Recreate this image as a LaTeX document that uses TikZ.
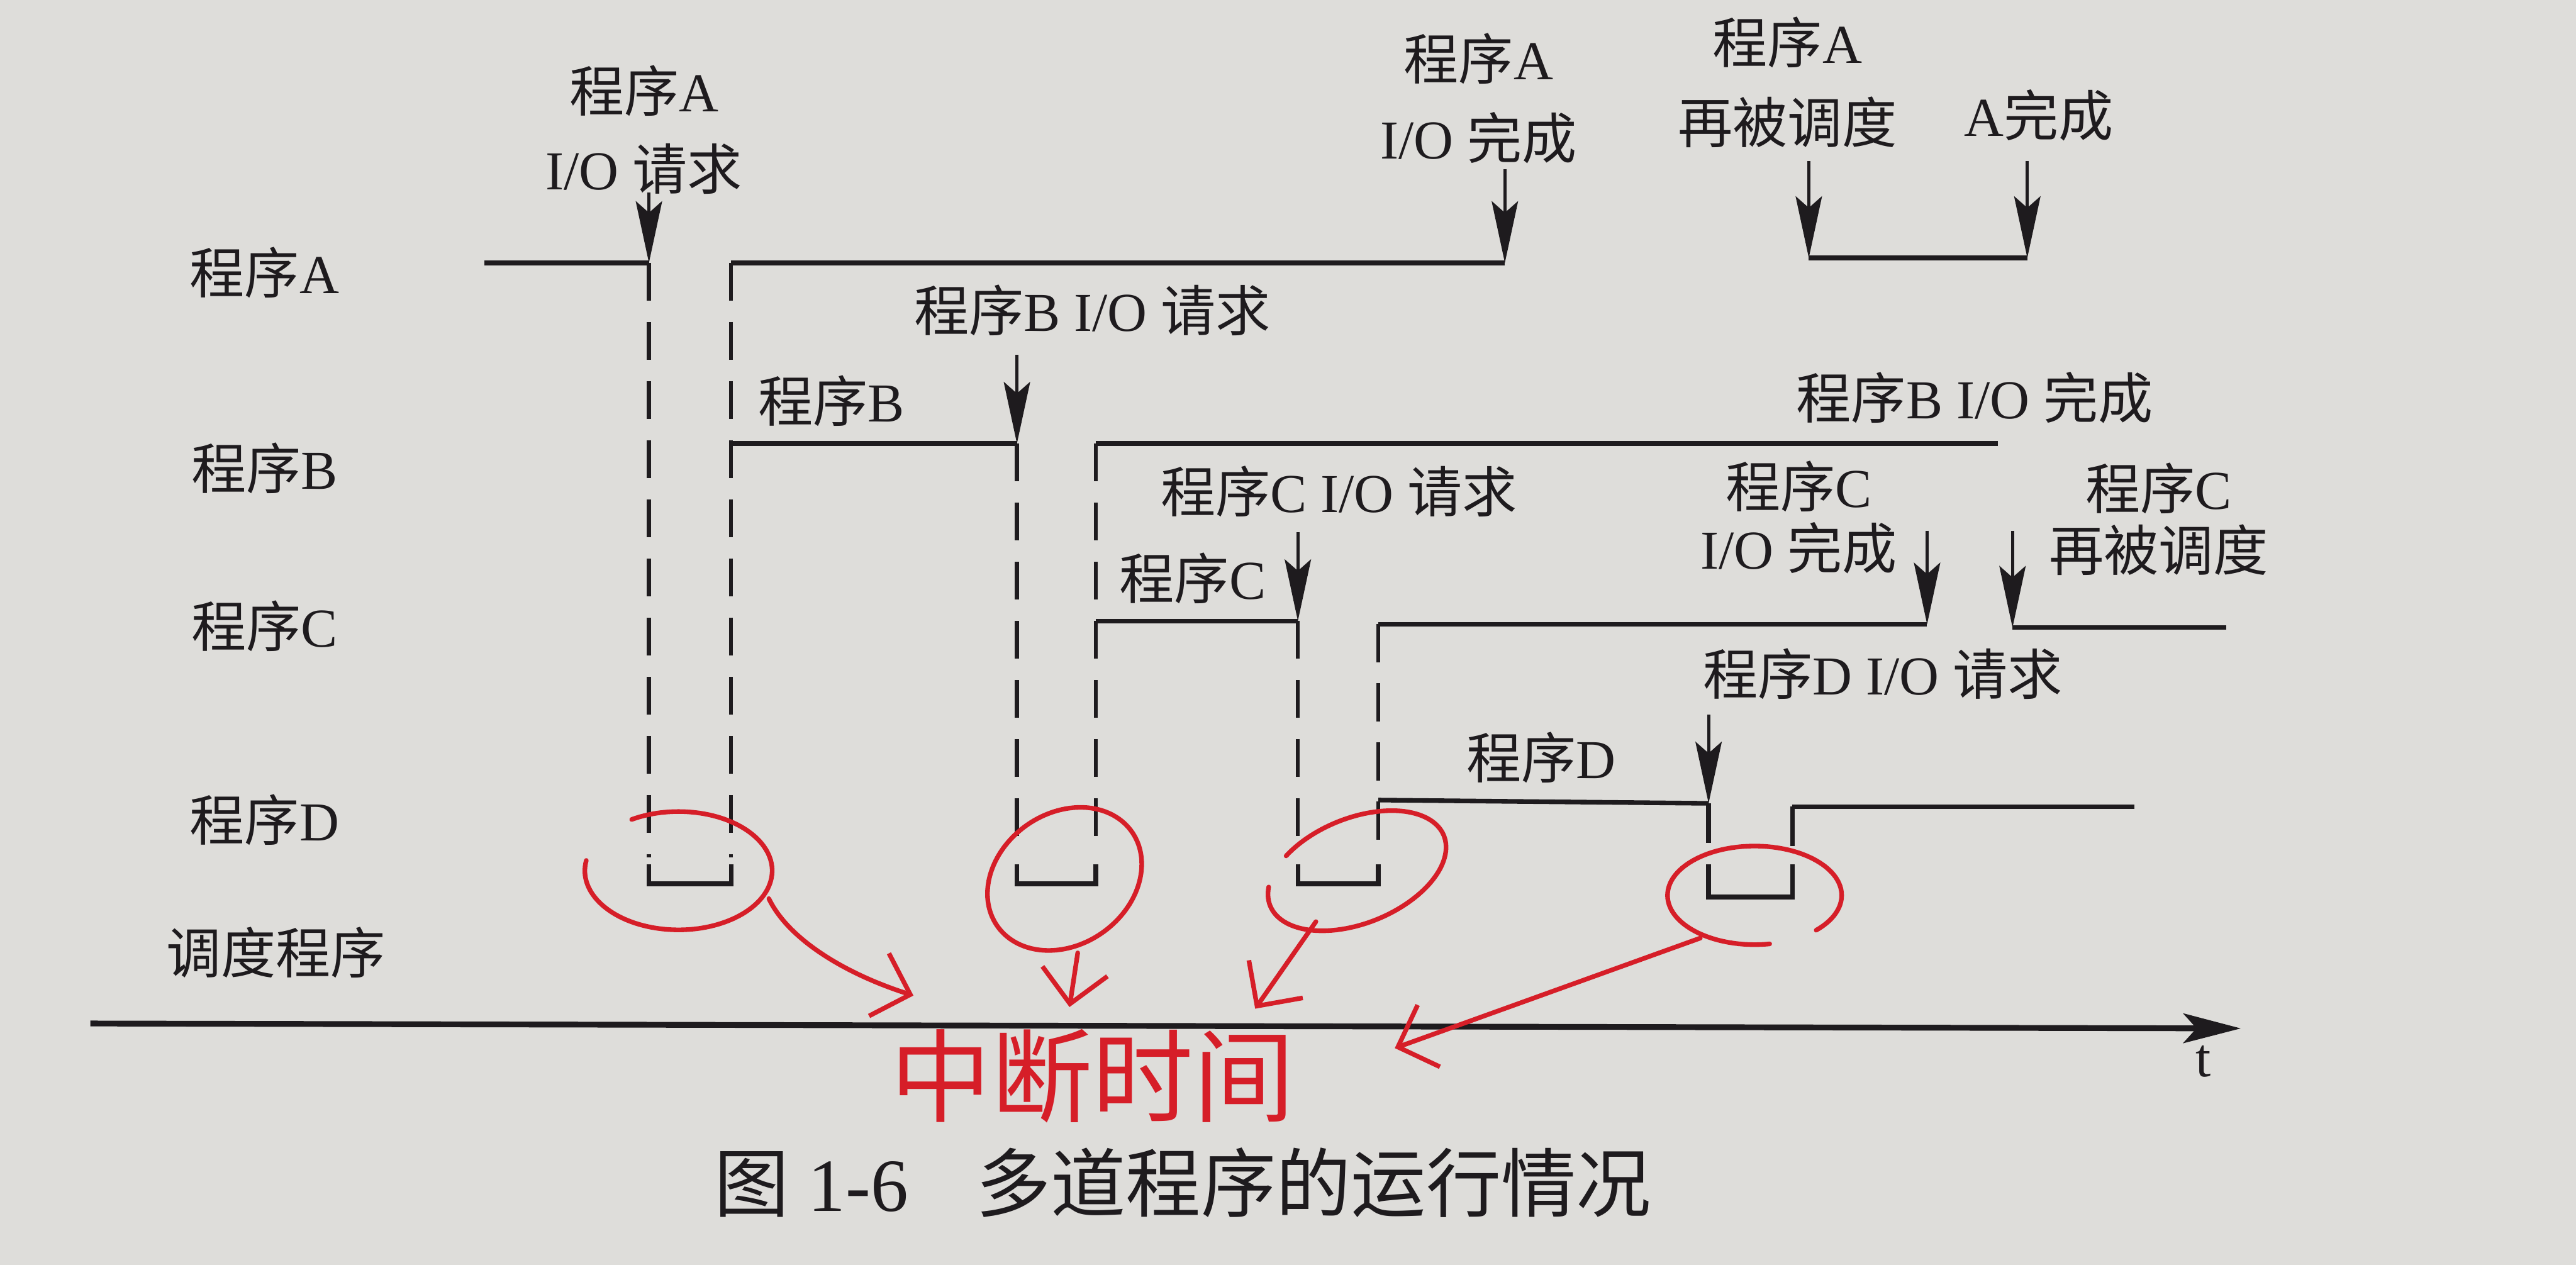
\documentclass[tikz,border=0pt]{standalone}
\usepackage{fontspec}
\setmainfont{Liberation Serif}
\newfontfamily\cjk{Noto Sans CJK SC}
\usetikzlibrary{arrows.meta}
\definecolor{paper}{RGB}{222,221,218}
\definecolor{printink}{RGB}{30,27,30}
\definecolor{inkred}{RGB}{214,30,40}
\newcommand\zh[1]{{\cjk #1}}
\tikzset{
lbl/.style={
  font=\fontsize{19}{23}\selectfont,
  text=printink,
  inner sep=0pt,
  align=center
},
caption/.style={
  font=\fontsize{26}{30}\selectfont,
  text=printink,
  inner sep=0pt
},
handnote/.style={
  font=\cjk\fontsize{35}{36}\selectfont,
  text=inkred,
  inner sep=0pt
},
level/.style={
  draw=printink,
  line width=1.6pt
},
ioline/.style={
  draw=printink,
  line width=1.4pt,
  dash pattern=on 4.6mm off 2.6mm
},
evarrow/.style={
  draw=printink,
  line width=1.1pt,
  -{Stealth[length=7.5mm,width=3.2mm,inset=1.4mm]}
},
taxis/.style={
  draw=printink,
  line width=2pt,
  -{Stealth[length=7mm,width=3.6mm,inset=1.6mm]}
},
redink/.style={
  draw=inkred,
  line width=1.6pt,
  line cap=round
},
redarrow/.style={
  redink,
  -{Straight Barb[length=4mm,width=8mm]}
}
}

\begin{document}
\begin{tikzpicture}[x=0.2mm, y=-0.2mm]
  \fill[paper] (0,0) rectangle (1568,770);
  \useasboundingbox (0,0) rectangle (1568,770);

  % row names
  \node[lbl] (rowA) at (161,166) {\zh{程序}A};
  \node[lbl] (rowB) at (161,285) {\zh{程序}B};
  \node[lbl] (rowC) at (161,381) {\zh{程序}C};
  \node[lbl] (rowD) at (161,499) {\zh{程序}D};
  \node[lbl] (sched) at (168,580) {\zh{调度程序}};

  % switch points on the levels
  \coordinate (a0) at (295,160);
  \coordinate (a1) at (395,160);
  \coordinate (a2) at (445,160);
  \coordinate (a3) at (916,160);
  \coordinate (a4) at (1101,157);
  \coordinate (a5) at (1234,157);
  \coordinate (b0) at (445,270);
  \coordinate (b1) at (619,270);
  \coordinate (b2) at (667,270);
  \coordinate (b3) at (1216,270);
  \coordinate (c0) at (667,378);
  \coordinate (c1) at (790,378);
  \coordinate (c2) at (839,380);
  \coordinate (c3) at (1173,380);
  \coordinate (c4) at (1225,382);
  \coordinate (c5) at (1355,382);
  \coordinate (d0) at (839,487);
  \coordinate (d1) at (1040,489);
  \coordinate (d2) at (1091,491);
  \coordinate (d3) at (1299,491);

  \draw[level] (a0) -- (a1);
  \draw[level] (a2) -- (a3);
  \draw[level] (a4) -- (a5);
  \draw[level] (b0) -- (b1);
  \draw[level] (b2) -- (b3);
  \draw[level] (c0) -- (c1);
  \draw[level] (c2) -- (c3);
  \draw[level] (c4) -- (c5);
  \draw[level] (d0) -- (d1);
  \draw[level] (d2) -- (d3);

  % scheduler slots
  \foreach \l/\r/\tl/\tr in {395/445/160/160, 619/667/270/270, 790/839/378/380}{
    \draw[ioline] (\l,\tl) -- (\l,522);
    \draw[ioline] (\r,\tr) -- (\r,522);
    \draw[level] (\l,526) -- (\l,538) -- (\r,538) -- (\r,526);
  }
  \draw[level] (d1) -- (1040,513);
  \draw[level] (d2) -- (1091,515);
  \draw[level] (1040,526) -- (1040,546) -- (1091,546) -- (1091,526);

  % event labels
  \node[lbl] (aReq) at (392,79) {\zh{程序}A\\[1.4mm]I/O \zh{请求}};
  \node[lbl] (aDone) at (900,60) {\zh{程序}A\\[1.6mm]I/O \zh{完成}};
  \node[lbl] (aResch) at (1088,50) {\zh{程序}A\\[1.6mm]\zh{再被调度}};
  \node[lbl] (aEnd) at (1241,70) {A\zh{完成}};
  \node[lbl] (bRun) at (506,244) {\zh{程序}B};
  \node[lbl] (bReq) at (665,189) {\zh{程序}B I/O \zh{请求}};
  \node[lbl] (bDone) at (1202,242) {\zh{程序}B I/O \zh{完成}};
  \node[lbl] (cRun) at (726,352) {\zh{程序}C};
  \node[lbl] (cReq) at (815,299) {\zh{程序}C I/O \zh{请求}};
  \node[lbl] (cDone) at (1095,315) {\zh{程序}C\\[-0.6mm]I/O \zh{完成}};
  \node[lbl] (cResch) at (1314,316) {\zh{程序}C\\[-0.6mm]\zh{再被调度}};
  \node[lbl] (dRun) at (938,461) {\zh{程序}D};
  \node[lbl] (dReq) at (1146,410) {\zh{程序}D I/O \zh{请求}};

  % event arrows
  \coordinate (aReqTail) at (395,117);
  \coordinate (aDoneTail) at (916,103);
  \coordinate (aReschTail) at (1101,98);
  \coordinate (aEndTail) at (1234,98);
  \coordinate (bReqTail) at (619,216);
  \coordinate (cReqTail) at (790,324);
  \coordinate (cDoneTail) at (1173,323);
  \coordinate (cReschTail) at (1225,323);
  \coordinate (dReqTail) at (1040,435);
  \draw[evarrow] (aReqTail) -- (a1);
  \draw[evarrow] (aDoneTail) -- (a3);
  \draw[evarrow] (aReschTail) -- (a4);
  \draw[evarrow] (aEndTail) -- (a5);
  \draw[evarrow] (bReqTail) -- (b1);
  \draw[evarrow] (cReqTail) -- (c1);
  \draw[evarrow] (cDoneTail) -- (c3);
  \draw[evarrow] (cReschTail) -- (c4);
  \draw[evarrow] (dReqTail) -- (d1);

  % time axis
  \coordinate (t0) at (55,623);
  \coordinate (t1) at (1364,626);
  \draw[taxis] (t0) -- (t1);
  \node[lbl] (tlab) at (1341,646) {t};

  \node[caption] (cap) at (720,720) {\zh{图} 1-6\hspace{0.9em}\zh{多道程序的运行情况}};

  % red pen notes
  \coordinate (e1) at (413,530);
  \coordinate (e2) at (648,535);
  \coordinate (e3) at (826,530);
  \coordinate (e4) at (1068,545);
  \draw[redink] (e1) ++(190:57 and 36) arc[start angle=190, end angle=-120, x radius=57, y radius=36];
  \draw[redink, rotate around={35:(e2)}] (e2) ++(215:50 and 40) arc[start angle=215, end angle=-150, x radius=50, y radius=40];
  \draw[redink, rotate around={22:(e3)}] (e3) ++(200:57 and 32) arc[start angle=200, end angle=-130, x radius=57, y radius=32];
  \draw[redink] (e4) ++(45:53 and 30) arc[start angle=45, end angle=-280, x radius=53, y radius=30];

  \node[handnote] (intr) at (665,655) {中断时间};

  \coordinate (r1s) at (468,547);
  \coordinate (r1e) at (556,606);
  \coordinate (r2s) at (656,580);
  \coordinate (r2e) at (651,613);
  \coordinate (r3s) at (801,561);
  \coordinate (r3e) at (764,614);
  \coordinate (r4s) at (1035,571);
  \coordinate (r4e) at (849,638);
  \draw[redarrow] (r1s) .. controls (480,572) and (515,593) .. (r1e);
  \draw[redarrow] (r2s) -- (r2e);
  \draw[redarrow] (r3s) -- (r3e);
  \draw[redarrow] (r4s) -- (r4e);
\end{tikzpicture}
\end{document}
